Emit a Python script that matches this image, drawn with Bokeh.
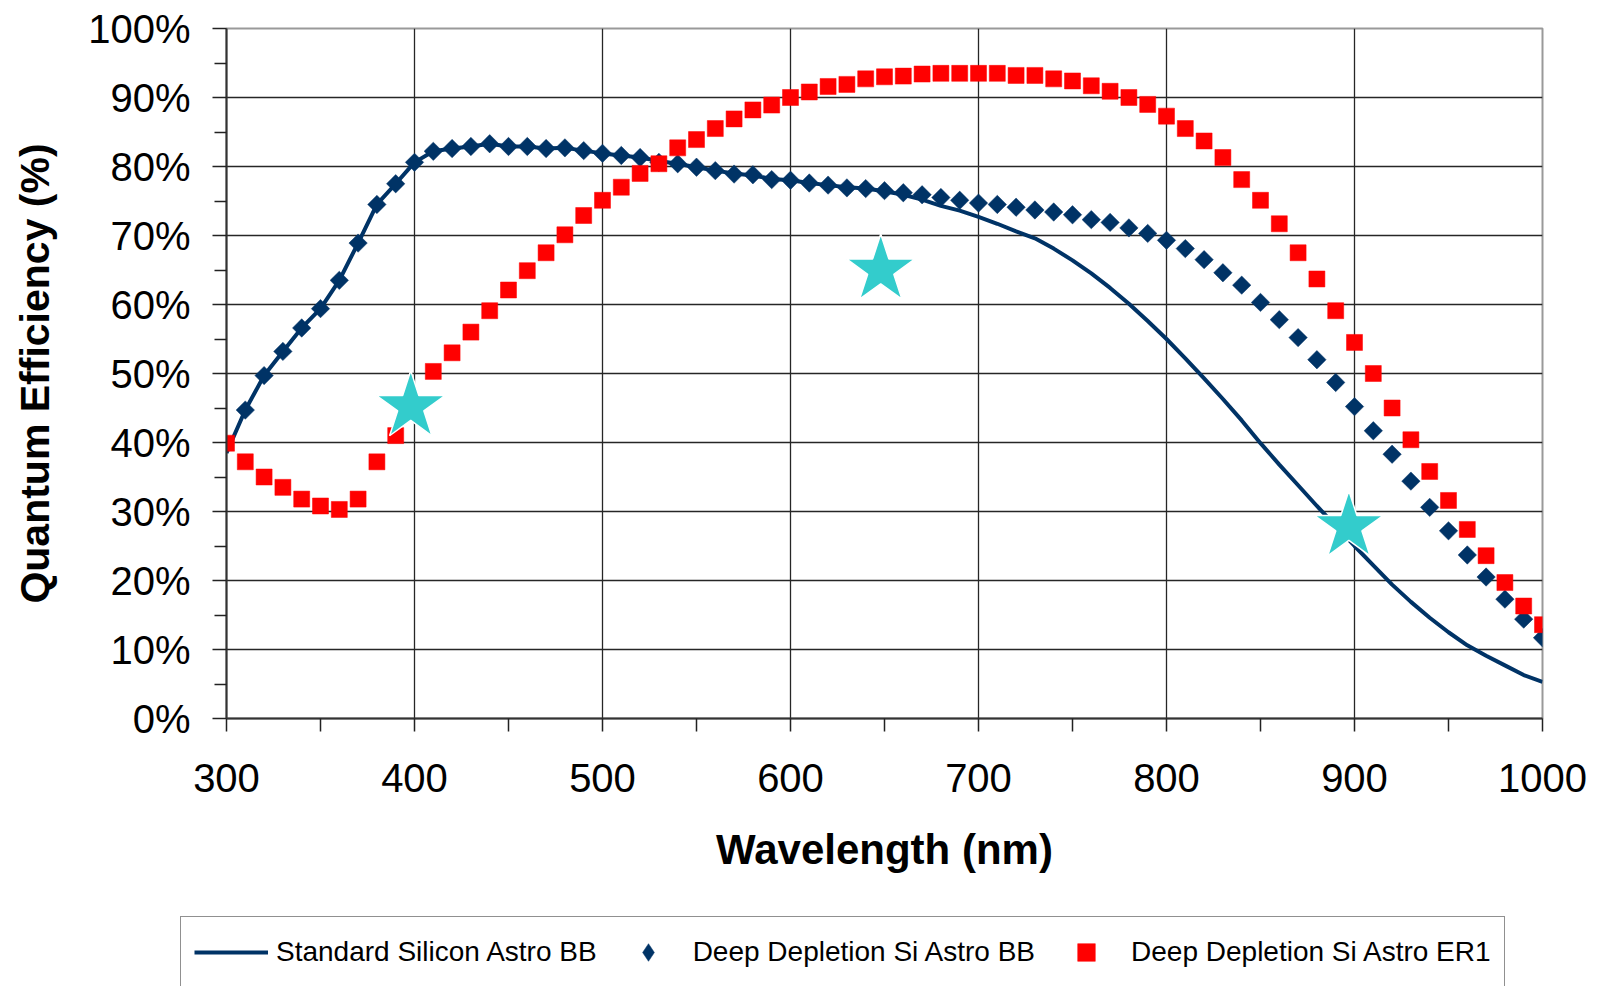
import math
from bokeh.plotting import figure
from bokeh.models import Range1d, FixedTicker, PrintfTickFormatter, Legend, LegendItem
from bokeh.embed import file_html
from bokeh.resources import INLINE

# ---- data ----
wavelength = list(range(300, 1001, 10))
std_si = [38.5, 44.7, 49.7, 53.2, 56.6, 59.4, 63.5, 68.9, 74.5, 77.5,
          80.6, 82.2, 82.6, 82.9, 83.3, 82.9, 82.9, 82.6, 82.7, 82.3,
          81.9, 81.6, 81.3, 80.8, 80.4, 79.9, 79.4, 79.0, 78.7, 78.2,
          78.0, 77.6, 77.3, 77.0, 76.8, 76.4, 75.9, 75.2, 74.3, 73.6,
          72.7, 71.7, 70.6, 69.6, 68.1, 66.4, 64.5, 62.4, 60.1, 57.6,
          55.0, 52.2, 49.3, 46.3, 43.2, 39.9, 36.8, 33.8, 30.8, 27.9,
          25.0, 22.2, 19.4, 16.9, 14.6, 12.5, 10.6, 9.1, 7.7, 6.3, 5.3]

dd_bb_nm = list(range(310, 1001, 10))
dd_bb = [44.7, 49.7, 53.2, 56.6, 59.4, 63.5, 68.9, 74.5, 77.5, 80.6,
         82.2, 82.6, 82.9, 83.3, 82.9, 82.9, 82.6, 82.7, 82.3, 81.9,
         81.6, 81.3, 80.6, 80.4, 79.9, 79.4, 78.9, 78.8, 78.1, 78.0,
         77.6, 77.3, 76.9, 76.8, 76.5, 76.2, 75.9, 75.5, 75.1, 74.7,
         74.5, 74.1, 73.7, 73.4, 73.0, 72.3, 71.9, 71.1, 70.3, 69.3,
         68.1, 66.5, 64.6, 62.8, 60.3, 57.8, 55.2, 52.0, 48.7, 45.2,
         41.7, 38.3, 34.4, 30.6, 27.2, 23.7, 20.5, 17.3, 14.4, 11.7]

er1 = [39.9, 37.2, 35.0, 33.5, 31.8, 30.8, 30.3, 31.8, 37.2, 41.0,
       45.5, 50.3, 53.0, 56.0, 59.1, 62.1, 64.9, 67.5, 70.1, 72.9,
       75.1, 77.0, 79.0, 80.4, 82.7, 83.9, 85.5, 86.9, 88.2, 88.9,
       90.0, 90.8, 91.6, 91.9, 92.7, 93.0, 93.1, 93.4, 93.5, 93.5,
       93.5, 93.5, 93.2, 93.2, 92.7, 92.4, 91.7, 90.9, 90.0, 89.0,
       87.3, 85.5, 83.7, 81.3, 78.1, 75.1, 71.7, 67.5, 63.7, 59.1,
       54.5, 50.0, 45.0, 40.4, 35.8, 31.6, 27.4, 23.6, 19.7, 16.3, 13.6]

star_nm = [398, 648, 897]
star_qe = [45.2, 65.0, 27.8]

x_ticks = list(range(300, 1001, 100))
x_minor = list(range(350, 1000, 100))
y_ticks = list(range(0, 101, 10))
y_minor = list(range(5, 100, 10))

labels = ["Standard Silicon Astro BB", "Deep Depletion Si Astro BB",
          "Deep Depletion Si Astro ER1"]

NAVY = "#003366"
RED = "#FF0000"
CYAN = "#33CCCC"
FONT = "Liberation Sans"
LINE_W = 4
DIA_SIZE = 13
SQ_SIZE = 16

# ---- main chart ----
p = figure(width=1607, height=900, x_range=Range1d(300, 1000), y_range=Range1d(0, 100),
           output_backend="svg", toolbar_location=None,
           min_border_left=226, min_border_right=65, min_border_top=28, min_border_bottom=182,
           background_fill_color="white", border_fill_color="white")

p.outline_line_color = "#999999"
p.outline_line_width = 2

p.xgrid.ticker = FixedTicker(ticks=x_ticks)
p.ygrid.ticker = FixedTicker(ticks=y_ticks)
for g in (p.xgrid, p.ygrid):
    g.grid_line_color = "#262626"
    g.grid_line_width = 1.3
    g.grid_line_alpha = 1.0

p.xaxis.ticker = FixedTicker(ticks=x_ticks, minor_ticks=x_minor)
p.yaxis.ticker = FixedTicker(ticks=y_ticks, minor_ticks=y_minor)
p.yaxis.formatter = PrintfTickFormatter(format="%d%%")
p.xaxis.axis_label = "Wavelength (nm)"
p.yaxis.axis_label = "Quantum Efficiency (%)"
for ax in (p.xaxis, p.yaxis):
    ax.axis_line_color = "#333333"
    ax.axis_line_width = 2
    ax.major_tick_line_color = "#222222"
    ax.minor_tick_line_color = "#222222"
    ax.major_tick_line_width = 1.5
    ax.minor_tick_line_width = 1.5
    ax.major_tick_in = 0
    ax.minor_tick_in = 0
    ax.major_label_text_font = FONT
    ax.major_label_text_font_size = "40px"
    ax.major_label_text_color = "black"
    ax.axis_label_text_font = FONT
    ax.axis_label_text_font_style = "bold"
    ax.axis_label_text_color = "black"
p.xaxis.axis_label_text_font_size = "42px"
p.yaxis.axis_label_text_font_size = "41px"
p.xaxis.major_tick_out = 13
p.xaxis.minor_tick_out = 13
p.yaxis.major_tick_out = 14
p.yaxis.minor_tick_out = 12
p.yaxis.major_label_standoff = 22
p.xaxis.major_label_standoff = 32
p.xaxis.axis_label_standoff = 31
p.yaxis.axis_label_standoff = 27

p.line(wavelength, std_si, line_color=NAVY, line_width=LINE_W)
p.scatter(dd_bb_nm, dd_bb, marker="square", size=DIA_SIZE, angle=math.pi / 4,
          fill_color=NAVY, line_color=NAVY, line_width=0.5)
p.scatter(wavelength, er1, marker="square", size=SQ_SIZE,
          fill_color=RED, line_color=RED, line_width=0.5)
p.scatter(star_nm, star_qe, marker="star", size=72, fill_color=CYAN,
          line_color="white", line_width=1.5)

# ---- legend strip: its own root so the box can start left of the chart frame ----
lf = figure(width=1607, height=86, x_range=Range1d(0, 1), y_range=Range1d(0, 1),
            output_backend="svg", toolbar_location=None,
            x_axis_type=None, y_axis_type=None,
            min_border=0, min_border_left=0, min_border_right=0,
            min_border_top=0, min_border_bottom=0,
            background_fill_color="white", border_fill_color="white")
lf.outline_line_color = None
lf.xgrid.visible = False
lf.ygrid.visible = False
# same series, outside this strip's ranges: only their legend swatches show
lg_line = lf.line(wavelength, std_si, line_color=NAVY, line_width=LINE_W)
lg_dia = lf.scatter(dd_bb_nm, dd_bb, marker="diamond", size=DIA_SIZE,
                    fill_color=NAVY, line_color=NAVY, line_width=0.5)
lg_sq = lf.scatter(wavelength, er1, marker="square", size=SQ_SIZE,
                   fill_color=RED, line_color=RED, line_width=0.5)

legend = Legend(items=[LegendItem(label=labels[0], renderers=[lg_line]),
                       LegendItem(label=labels[1], renderers=[lg_dia]),
                       LegendItem(label=labels[2], renderers=[lg_sq])],
                orientation="horizontal", location=(180, -2),
                glyph_width=74, glyph_height=44, label_standoff=8, spacing=14,
                padding=13, margin=0, label_height=20,
                label_text_font=FONT, label_text_font_size="28px",
                label_text_color="black",
                border_line_color="#222222", border_line_width=1.5,
                background_fill_color="white", background_fill_alpha=1.0)
lf.add_layout(legend, "center")

open("out.html", "w").write(file_html([p, lf], INLINE))
